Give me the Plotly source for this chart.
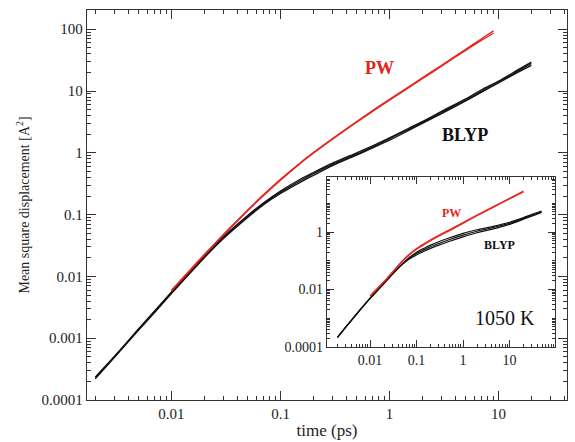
import plotly.graph_objects as go

# main panel
t_blyp = [0.002, 0.003, 0.005, 0.007, 0.01, 0.015, 0.02, 0.03, 0.05, 0.07, 0.1, 0.15, 0.2, 0.3, 0.5, 0.7, 1, 1.5, 2, 3, 5, 7, 10, 15, 20]
msd_blyp_a = [2.3e-4, 5.0e-4, 1.4e-3, 2.7e-3, 5.5e-3, 0.012, 0.021, 0.043, 0.095, 0.15, 0.23, 0.35, 0.46, 0.65, 0.95, 1.25, 1.7, 2.4, 3.1, 4.5, 7.2, 10, 14, 21, 28]
msd_blyp_b = [2.2e-4, 4.9e-4, 1.35e-3, 2.6e-3, 5.3e-3, 0.0115, 0.020, 0.041, 0.09, 0.145, 0.22, 0.33, 0.43, 0.62, 0.92, 1.2, 1.6, 2.3, 3.0, 4.3, 6.9, 9.6, 13.5, 20, 26]
msd_blyp_c = [2.35e-4, 5.1e-4, 1.42e-3, 2.75e-3, 5.6e-3, 0.0122, 0.0215, 0.044, 0.097, 0.155, 0.24, 0.37, 0.48, 0.68, 1.0, 1.3, 1.75, 2.5, 3.2, 4.7, 7.5, 10.5, 14.5, 22, 29.5]

t_pw = [0.01, 0.015, 0.02, 0.03, 0.05, 0.07, 0.1, 0.15, 0.2, 0.3, 0.5, 0.7, 1, 1.5, 2, 3, 5, 7, 9]
msd_pw_a = [0.006, 0.0131, 0.0227, 0.048, 0.119, 0.211, 0.373, 0.68, 1.01, 1.71, 3.22, 4.82, 7.34, 11.7, 16.4, 26.2, 47.5, 70, 94]
msd_pw_b = [0.0058, 0.0127, 0.022, 0.0465, 0.115, 0.204, 0.36, 0.66, 0.98, 1.66, 3.12, 4.67, 7.1, 11.3, 15.8, 25.2, 45.5, 66.5, 86]

# inset (1050 K)
t_blyp_in = [0.002, 0.003, 0.005, 0.01, 0.02, 0.03, 0.05, 0.07, 0.1, 0.15, 0.2, 0.3, 0.5, 1, 2, 5, 10, 20, 30, 49]
msd_blyp_in_a = [2.2e-4, 5e-4, 1.35e-3, 5e-3, 0.017, 0.035, 0.08, 0.13, 0.2, 0.28, 0.35, 0.46, 0.62, 0.9, 1.2, 1.65, 2.2, 3.2, 4.1, 5.4]
msd_blyp_in_b = [2.1e-4, 4.8e-4, 1.3e-3, 4.8e-3, 0.016, 0.033, 0.075, 0.115, 0.16, 0.22, 0.27, 0.35, 0.47, 0.68, 0.95, 1.35, 1.85, 2.8, 3.6, 4.8]
msd_blyp_in_c = [2.15e-4, 4.9e-4, 1.32e-3, 4.9e-3, 0.0165, 0.034, 0.078, 0.122, 0.18, 0.25, 0.31, 0.4, 0.54, 0.78, 1.07, 1.5, 2.0, 3.0, 3.9, 5.1]

t_pw_in = [0.01, 0.02, 0.03, 0.05, 0.07, 0.1, 0.15, 0.2, 0.3, 0.5, 1, 2, 5, 10, 20]
msd_pw_in_a = [0.006, 0.019, 0.04, 0.1, 0.17, 0.27, 0.41, 0.54, 0.77, 1.18, 2.15, 3.9, 8.4, 15, 27]
msd_pw_in_b = [0.0058, 0.018, 0.038, 0.095, 0.16, 0.25, 0.38, 0.5, 0.72, 1.1, 2.0, 3.7, 8.0, 14.3, 25]

x_ticks = [0.01, 0.1, 1, 10]
x_labels = ['0.01', '0.1', '1', '10']
y_ticks = [1e-4, 1e-3, 1e-2, 0.1, 1, 10, 100]
y_labels = ['0.0001', '0.001', '0.01', '0.1', '1', '10', '100']
y_ticks_in = [1e-4, 1e-2, 1]
y_labels_in = ['0.0001', '0.01', '1']

RED = '#e3231c'
BLACK = '#111111'
FONT = 'Liberation Serif'


def minor_vals(lo, hi, with_decades=False):
    vals = []
    for k in range(lo, hi):
        if with_decades:
            vals.append(10.0 ** k)
        vals += [m * 10.0 ** k for m in range(2, 10)]
    return vals


fig = go.Figure()

for y in [msd_blyp_a, msd_blyp_b, msd_blyp_c]:
    fig.add_trace(go.Scatter(x=t_blyp, y=y, mode='lines', line=dict(color=BLACK, width=1.3, shape='spline', smoothing=0.6),
                             xaxis='x', yaxis='y', showlegend=False))
for y in [msd_pw_a, msd_pw_b]:
    fig.add_trace(go.Scatter(x=t_pw, y=y, mode='lines', line=dict(color=RED, width=1.3, shape='spline', smoothing=0.6),
                             xaxis='x', yaxis='y', showlegend=False))

for y in [msd_blyp_in_a, msd_blyp_in_b, msd_blyp_in_c]:
    fig.add_trace(go.Scatter(x=t_blyp_in, y=y, mode='lines', line=dict(color=BLACK, width=1.2, shape='spline', smoothing=0.6),
                             xaxis='x2', yaxis='y2', showlegend=False))
for y in [msd_pw_in_a, msd_pw_in_b]:
    fig.add_trace(go.Scatter(x=t_pw_in, y=y, mode='lines', line=dict(color=RED, width=1.2, shape='spline', smoothing=0.6),
                             xaxis='x2', yaxis='y2', showlegend=False))

axis_common = dict(type='log', showgrid=False, zeroline=False, showline=True, linecolor='#333',
                   linewidth=1.3, mirror='allticks', ticks='inside', tickcolor='#333', automargin=False,
                   tickfont=dict(family=FONT, size=15, color='#222'))

fig.update_layout(
    width=575, height=442,
    margin=dict(l=87, r=8, t=10, b=42),
    paper_bgcolor='white', plot_bgcolor='white',
    font=dict(family=FONT, color='#222'),
    xaxis=dict(axis_common, domain=[0, 1], range=[-2.775, 1.628], tickmode='array',
               tickvals=x_ticks, ticktext=x_labels, ticklen=9, tickwidth=1.2,
               minor=dict(tickmode='array', tickvals=minor_vals(-3, 2), ticks='inside', ticklen=4,
                          tickcolor='#333', showgrid=False),
               title=dict(text='time (ps)', font=dict(family=FONT, size=17, color='#222'), standoff=2)),
    yaxis=dict(axis_common, domain=[0, 1], range=[-4, 2.311], tickmode='array',
               tickvals=y_ticks, ticktext=y_labels, ticklen=9, tickwidth=1.2,
               minor=dict(tickmode='array', tickvals=minor_vals(-4, 3), ticks='inside', ticklen=4,
                          tickcolor='#333', showgrid=False),
               title=dict(text='Mean square displacement [A<sup>2</sup>]',
                          font=dict(family=FONT, size=14, color='#222'), standoff=8)),
    xaxis2=dict(axis_common, domain=[0.5, 0.975], anchor='y2', range=[-2.925, 1.978],
                tickmode='array', tickvals=x_ticks, ticktext=x_labels, ticklen=7, tickwidth=1.1,
                tickfont=dict(family=FONT, size=14, color='#222'),
                minor=dict(tickmode='array', tickvals=minor_vals(-3, 2), ticks='inside', ticklen=3,
                           tickcolor='#333', showgrid=False)),
    yaxis2=dict(axis_common, domain=[0.136, 0.572], anchor='x2', range=[-4, 1.92],
                tickmode='array', tickvals=y_ticks_in, ticktext=y_labels_in, ticklen=7, tickwidth=1.1,
                tickfont=dict(family=FONT, size=14, color='#222'),
                minor=dict(tickmode='array', tickvals=[v for v in minor_vals(-4, 2, True) if v not in y_ticks_in],
                           ticks='inside', ticklen=3, tickcolor='#333', showgrid=False)),
)

# white background behind the inset
fig.add_shape(type='rect', xref='paper', yref='paper', x0=0.5, x1=0.975, y0=0.136, y1=0.572,
              fillcolor='white', line=dict(width=0), layer='below')

labels = [
    dict(text='<b>PW</b>', x=0.61, y=0.851, size=18, color=RED),
    dict(text='<b>BLYP</b>', x=0.7875, y=0.679, size=18, color=BLACK),
    dict(text='<b>PW</b>', x=0.76, y=0.479, size=12, color=RED),
    dict(text='<b>BLYP</b>', x=0.86, y=0.397, size=12, color=BLACK),
    dict(text='1050 K', x=0.871, y=0.21, size=20, color=BLACK),
]
for a in labels:
    fig.add_annotation(text=a['text'], x=a['x'], y=a['y'], xref='paper', yref='paper',
                       xanchor='center', yanchor='middle', showarrow=False,
                       font=dict(family=FONT, size=a['size'], color=a['color']))

# drop the default page margin so the 575x442 figure fills the window
fig.write_html('out.html', config={'displayModeBar': False},
               post_script="document.body.style.margin='0';")
